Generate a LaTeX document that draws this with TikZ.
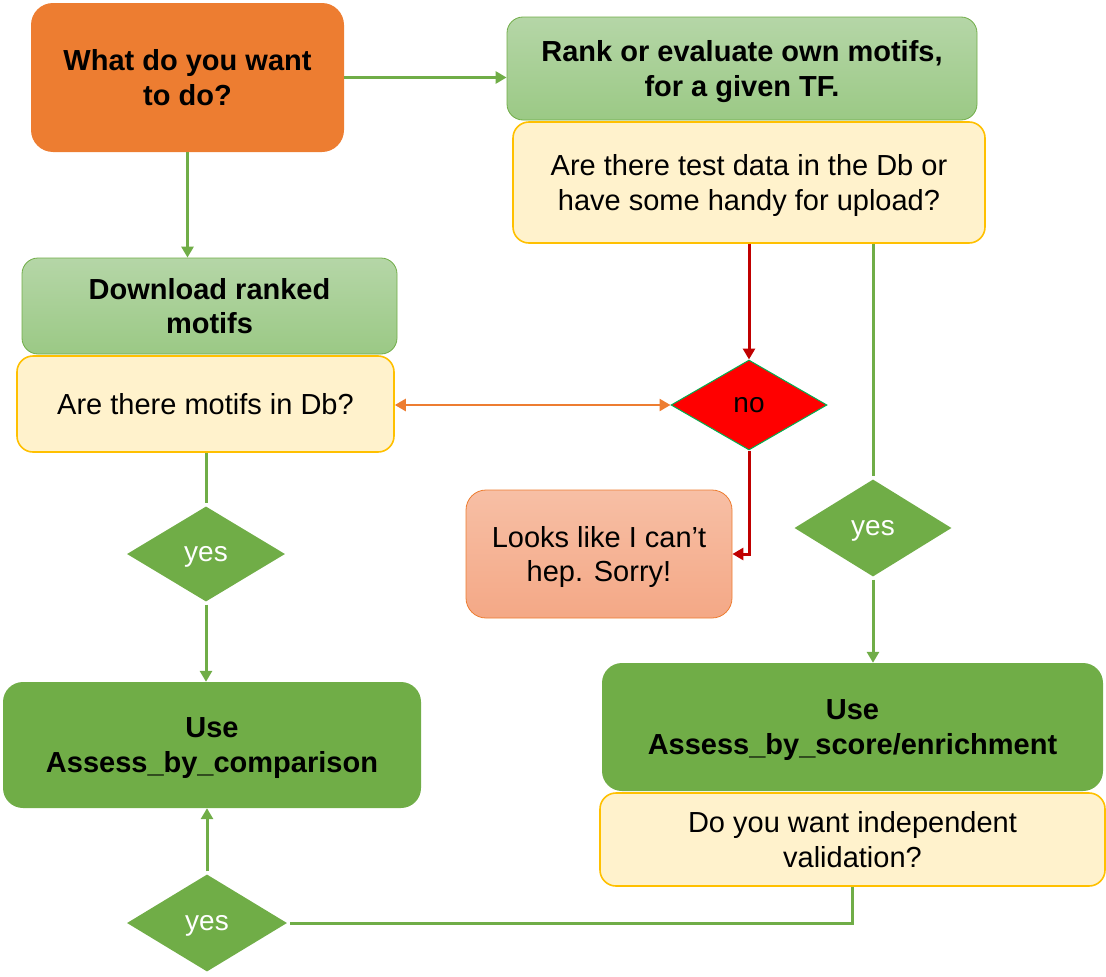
\documentclass[tikz,border=0pt]{standalone}
\usepackage{fontspec}
\setmainfont{Liberation Sans}
\usetikzlibrary{arrows.meta, positioning, shapes.geometric}
\definecolor{flowgreen}{HTML}{70AD47}
\definecolor{floworange}{HTML}{ED7D31}
\definecolor{flowred}{HTML}{C00000}
\definecolor{brightgreen}{HTML}{00B050}
\definecolor{paletop}{HTML}{B5D6A7}
\definecolor{palebottom}{HTML}{9BC985}
\definecolor{askfill}{HTML}{FFF2CC}
\definecolor{askline}{HTML}{FFC000}
\definecolor{sorrytop}{HTML}{F7BFA5}
\definecolor{sorrybottom}{HTML}{F4A886}

\tikzset{
  boxbase/.style={rounded corners=16pt, align=center, inner sep=0pt,
    text depth=0pt, font=\fontsize{29}{34.5}\selectfont},
  startbox/.style={boxbase, fill=floworange, rounded corners=22pt,
    font=\fontsize{29}{34.5}\selectfont\bfseries},
  titlebox/.style={boxbase, draw=flowgreen, line width=0.8pt,
    top color=paletop, bottom color=palebottom,
    font=\fontsize{29}{34.5}\selectfont\bfseries},
  askbox/.style={boxbase, draw=askline, line width=1.6pt, fill=askfill},
  usebox/.style={boxbase, fill=flowgreen, rounded corners=20pt,
    font=\fontsize{29}{34.5}\selectfont\bfseries},
  sorrybox/.style={boxbase, draw=floworange, line width=0.8pt,
    top color=sorrytop, bottom color=sorrybottom, rounded corners=20pt},
  choice/.style={diamond, inner sep=0pt, fill=flowgreen, text=white,
    text depth=0pt, font=\fontsize{28}{32}\selectfont},
  tip/.style={-{Triangle[length=11pt,width=12pt]}},
  flow/.style={flowgreen, line width=3pt},
  flowarrow/.style={flow, tip},
}

\begin{document}
\begin{tikzpicture}[x=1pt, y=-1pt]
  \useasboundingbox (0,0) rectangle (1106,977);

  % left column
  \node[startbox, minimum width=313pt, minimum height=149pt] (want) at (187.5,77.5)
    {What do you want\\to do?};
  \node[titlebox, minimum width=375pt, minimum height=96pt] (dl) at (209.5,306)
    {Download ranked\\motifs};
  \node[askbox, minimum width=377pt, minimum height=96pt] (motq) at (205.5,404)
    {Are there motifs in Db?};
  \node[choice, minimum width=158pt, minimum height=95pt] (yesL) at (206,554) {yes};
  \node[usebox, minimum width=418pt, minimum height=126pt] (comp) at (212,745)
    {Use\\Assess\_by\_comparison};
  \node[choice, minimum width=160pt, minimum height=97pt] (yesB) at (207,923) {yes};

  % right column
  \node[titlebox, minimum width=470pt, minimum height=103pt] (rank) at (742,68.5)
    {Rank or evaluate own motifs,\\for a given TF.};
  \node[askbox, minimum width=472pt, minimum height=121pt] (testq) at (749,182.5)
    {Are there test data in the Db or\\have some handy for upload?};
  \node[diamond, inner sep=0pt, fill=red, draw=brightgreen, line width=1pt,
    minimum width=156pt, minimum height=90pt,
    font=\fontsize{28}{32}\selectfont] (no) at (749,405) {no};
  \node[sorrybox, minimum width=266pt, minimum height=128pt] (sorry) at (599,554)
    {Looks like I can’t\\hep. Sorry!};
  \node[choice, minimum width=157pt, minimum height=97pt] (yesR) at (873,528) {yes};
  \node[usebox, minimum width=501pt, minimum height=128pt] (score) at (852.5,727)
    {Use\\Assess\_by\_score/enrichment};
  \node[askbox, minimum width=505pt, minimum height=93pt] (valq) at (852.5,839.5)
    {Do you want independent\\validation?};

  % connectors
  \draw[flowarrow] (want.east) -- (want.east -| rank.west);
  \draw[flowarrow] (want.south) -- (want.south |- dl.north);
  \draw[floworange, line width=2.5pt,
    {Triangle[length=11pt,width=12pt]}-{Triangle[length=11pt,width=12pt]}]
    (no.west -| motq.east) -- (no.west);
  \draw[flowred, line width=3pt, tip] (no.north |- testq.south) -- (no.north);
  \draw[flowred, line width=3pt, tip] (no.south) |- (sorry.east);
  \draw[flow, shorten >=3pt] (yesR.north |- testq.south) -- (yesR.north);
  \draw[flowarrow, shorten <=3pt] (yesR.south) -- (yesR.south |- score.north);
  \draw[flow, shorten >=3pt] (yesL.north |- motq.south) -- (yesL.north);
  \draw[flowarrow, shorten <=3pt] (yesL.south) -- (yesL.south |- comp.north);
  \draw[flow, shorten >=3pt] (valq.south) |- (yesB.east);
  \draw[flowarrow, shorten <=3pt] (yesB.north) -- (yesB.north |- comp.south);
\end{tikzpicture}
\end{document}
